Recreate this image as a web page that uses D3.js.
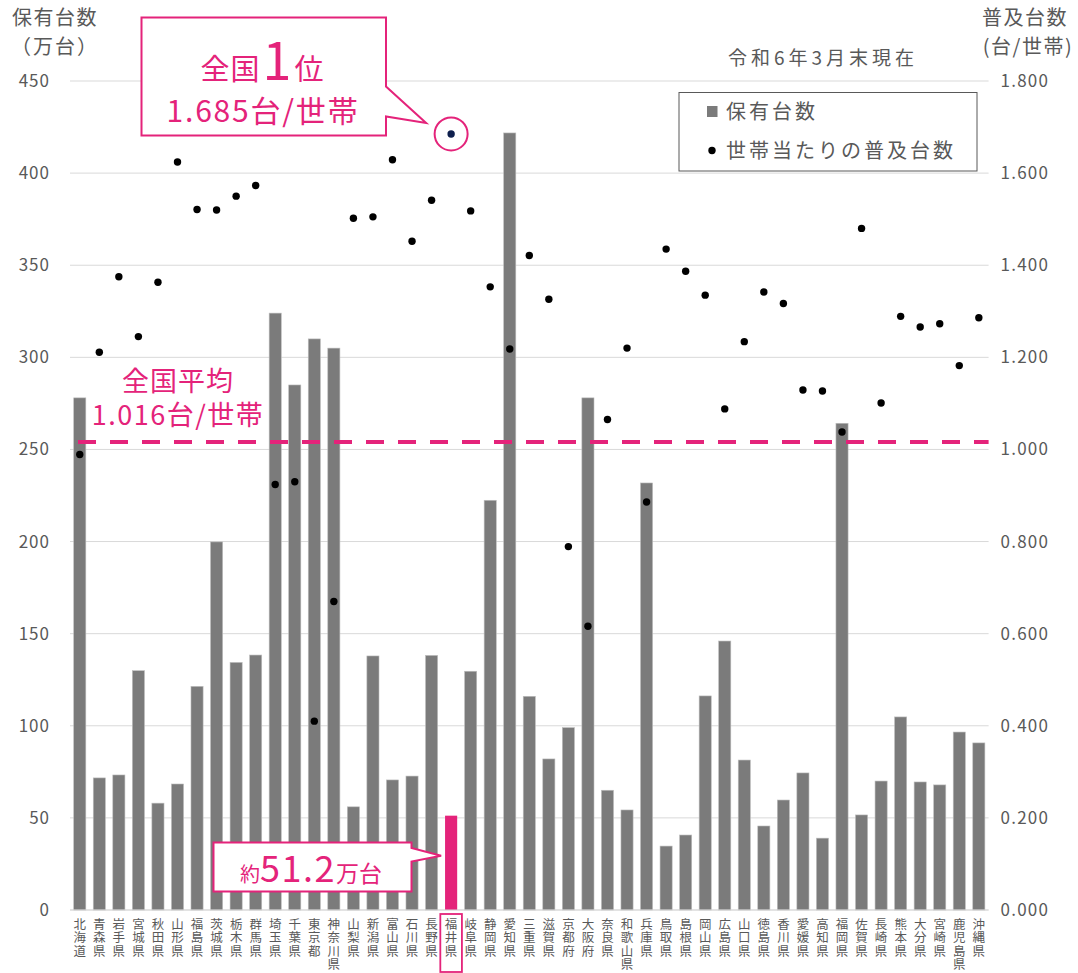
<!DOCTYPE html>
<html lang="ja">
<head>
<meta charset="utf-8">
<script src="https://cdn.jsdelivr.net/npm/d3@7"></script>
<style>
  html,body{margin:0;padding:0;background:#fff;}
  svg{display:block;}
  text{font-family:"Noto Sans CJK JP","Noto Sans",sans-serif;}
  .vlab{writing-mode:vertical-rl;text-orientation:upright;}
</style>
</head>
<body>
<svg id="chart" width="1078" height="973"></svg>
<script>
const prefectures = ["北海道","青森県","岩手県","宮城県","秋田県","山形県","福島県","茨城県","栃木県","群馬県","埼玉県","千葉県","東京都","神奈川県","山梨県","新潟県","富山県","石川県","長野県","福井県","岐阜県","静岡県","愛知県","三重県","滋賀県","京都府","大阪府","奈良県","和歌山県","兵庫県","鳥取県","島根県","岡山県","広島県","山口県","徳島県","香川県","愛媛県","高知県","福岡県","佐賀県","長崎県","熊本県","大分県","宮崎県","鹿児島県","沖縄県"];
// 保有台数（万台）
const ownedUnits = [278,71.7,73.3,129.9,58,68.4,121.4,199.8,134.4,138.4,324,285,310,305,56,137.9,70.6,72.7,138.2,51.2,129.6,222.4,421.8,116.0,82,99.0,278,65,54.3,231.8,34.7,40.7,116.2,146,81.4,45.6,59.7,74.4,39,264.2,51.6,70,104.8,69.5,67.9,96.6,90.7];
// 世帯当たりの普及台数（台/世帯）
const perHousehold = [0.989,1.211,1.375,1.245,1.363,1.624,1.521,1.520,1.550,1.573,0.924,0.930,0.410,0.670,1.502,1.505,1.629,1.452,1.541,1.685,1.518,1.353,1.218,1.421,1.326,0.789,0.616,1.065,1.220,0.886,1.435,1.387,1.335,1.088,1.234,1.342,1.317,1.129,1.127,1.038,1.480,1.101,1.289,1.266,1.273,1.182,1.286];
const leftTicks = [0,50,100,150,200,250,300,350,400,450];
const rightTicks = [0,0.2,0.4,0.6,0.8,1.0,1.2,1.4,1.6,1.8];
const nationalAverage = 1.016;
const highlight = "福井県";

const PINK = "#E4237A", GRAY = "#595959", BAR = "#7b7b7b", GRID = "#d9d9d9";
const svg = d3.select("#chart");
const L = 70, R = 988.6, T = 81, B = 910;

const x = d3.scaleBand().domain(prefectures).range([L, R]).paddingInner(0.38).paddingOuter(0.19);
const yL = d3.scaleLinear().domain([0, 450]).range([B, T]);
const yR = d3.scaleLinear().domain([0, 1.8]).range([B, T]);

// gridlines
svg.append("g").selectAll("line").data(leftTicks).join("line")
  .attr("x1", L).attr("x2", R).attr("y1", d => yL(d)).attr("y2", d => yL(d))
  .attr("stroke", GRID).attr("stroke-width", 1);

// left axis labels
const axL = svg.append("g").attr("transform", `translate(${L},0)`)
  .call(d3.axisLeft(yL).tickValues(leftTicks).tickSize(0).tickPadding(20).tickFormat(d3.format("d")));
axL.select(".domain").remove();
axL.selectAll("text").attr("fill", GRAY).style("font-size", "17px").style("letter-spacing", "1px");

// right axis labels
const axR = svg.append("g").attr("transform", `translate(${R},0)`)
  .call(d3.axisRight(yR).tickValues(rightTicks).tickSize(0).tickPadding(12).tickFormat(d3.format(".3f")));
axR.select(".domain").remove();
axR.selectAll("text").attr("fill", GRAY).style("font-size", "17px").style("letter-spacing", "1.2px");

// bars
svg.append("g").selectAll("rect").data(prefectures).join("rect")
  .attr("x", d => x(d)).attr("width", x.bandwidth())
  .attr("y", (d, i) => yL(ownedUnits[i])).attr("height", (d, i) => B - yL(ownedUnits[i]))
  .attr("fill", d => d === highlight ? PINK : BAR)
  .attr("stroke", d => d === highlight ? "none" : "#bdbdbd").attr("stroke-width", 0.6);

// national average dashed line
svg.append("line").attr("x1", L + 8).attr("x2", R).attr("y1", yR(nationalAverage)).attr("y2", yR(nationalAverage))
  .attr("stroke", PINK).attr("stroke-width", 4).attr("stroke-dasharray", "18,14");

// dots
svg.append("g").selectAll("circle").data(prefectures).join("circle")
  .attr("cx", d => x(d) + x.bandwidth() / 2).attr("cy", (d, i) => yR(perHousehold[i]))
  .attr("r", 3.7).attr("fill", d => d === highlight ? "#0e1f4d" : "#000");

// x labels (vertical)
svg.append("g").selectAll("text").data(prefectures).join("text")
  .attr("class", "vlab")
  .attr("x", d => x(d) + x.bandwidth() / 2).attr("y", 918)
  .attr("fill", GRAY).style("font-size", "12.5px").style("letter-spacing", "0.9px")
  .text(d => d);
// highlight box on 福井県 label
const hx = x(highlight) + x.bandwidth() / 2;
svg.append("rect").attr("x", hx - 10.8).attr("y", 914).attr("width", 21.6).attr("height", 58)
  .attr("fill", "none").attr("stroke", PINK).attr("stroke-width", 1.8);

// baseline
svg.append("line").attr("x1", L).attr("x2", R).attr("y1", B).attr("y2", B).attr("stroke", GRID);

// axis titles (two lines each)
const title2 = (tx, l1, l2, anchor, ls2) => {
  const t = svg.append("text").attr("text-anchor", anchor).attr("fill", GRAY).style("font-size", "20px");
  t.append("tspan").attr("x", tx[0]).attr("y", 25).style("letter-spacing", "1.5px").text(l1);
  t.append("tspan").attr("x", tx[1]).attr("y", 54).style("letter-spacing", ls2 + "px").text(l2);
};
title2([12, 11], "保有台数", "（万台）", "start", 2);
title2([1025, 1028], "普及台数", "(台/世帯)", "middle", 1.5);
svg.append("text").attr("x", 823).attr("y", 65).attr("text-anchor", "middle").attr("fill", GRAY)
  .style("font-size", "19px").style("letter-spacing", "4px").text("令和6年3月末現在");

// legend
svg.append("rect").attr("x", 679).attr("y", 92.5).attr("width", 298).attr("height", 78.5)
  .attr("fill", "#fff").attr("stroke", GRAY).attr("stroke-width", 1);
svg.append("rect").attr("x", 707).attr("y", 106).attr("width", 10.5).attr("height", 11).attr("fill", BAR);
svg.append("text").attr("x", 726).attr("y", 119).attr("fill", GRAY).style("font-size", "20px")
  .style("letter-spacing", "3px").text("保有台数");
svg.append("circle").attr("cx", 712).attr("cy", 150.5).attr("r", 3.7).attr("fill", "#000");
svg.append("text").attr("x", 726).attr("y", 158).attr("fill", GRAY).style("font-size", "20px")
  .style("letter-spacing", "3px").text("世帯当たりの普及台数");

// national average label (two lines, one text)
const avg = svg.append("text").attr("text-anchor", "middle").attr("fill", PINK).style("font-size", "27px");
avg.append("tspan").attr("x", 178).attr("y", 391).style("letter-spacing", "1px").text("全国平均");
avg.append("tspan").attr("x", 178).attr("y", 425).style("letter-spacing", "1.5px").text("1.016台/世帯");

// top callout (1位)
const cx1 = hx, cy1 = yR(perHousehold[prefectures.indexOf(highlight)]);
svg.append("circle").attr("cx", cx1).attr("cy", cy1).attr("r", 16.5).attr("fill", "none")
  .attr("stroke", PINK).attr("stroke-width", 2);
const b1 = {l: 141.5, t: 17.5, r: 386, b: 135.5};
const tip1 = [cx1 - 25, cy1 - 11];
svg.append("path")
  .attr("d", `M${b1.l},${b1.t}H${b1.r}V86.5L${tip1[0]},${tip1[1]}L${b1.r},116.5V${b1.b}H${b1.l}Z`)
  .attr("fill", "#fff").attr("stroke", PINK).attr("stroke-width", 2).attr("stroke-linejoin", "miter");
const t1 = svg.append("text").attr("text-anchor", "middle").attr("fill", PINK);
t1.append("tspan").attr("x", 262).attr("y", 80).style("font-size", "29px").style("letter-spacing", "1px").text("全国");
t1.append("tspan").style("font-size", "52px").attr("dx", 2).text("1");
t1.append("tspan").style("font-size", "29px").attr("dx", 3).text("位");
t1.append("tspan").attr("x", 263).attr("y", 122).style("font-size", "30px").style("letter-spacing", "1.8px").text("1.685台/世帯");

// bottom callout (約51.2万台)
const b2 = {l: 213.5, t: 842.5, r: 411.5, b: 891.5};
const tip2 = [hx - 10, yL(ownedUnits[prefectures.indexOf(highlight)]) + 40];
svg.append("path")
  .attr("d", `M${b2.l},${b2.t}H${b2.r}V848L${tip2[0]},${tip2[1]}L${b2.r},861.5V${b2.b}H${b2.l}Z`)
  .attr("fill", "#fff").attr("stroke", PINK).attr("stroke-width", 2);
const t2 = svg.append("text").attr("x", 311).attr("y", 882).attr("text-anchor", "middle").attr("fill", PINK);
t2.append("tspan").style("font-size", "20px").text("約");
t2.append("tspan").style("font-size", "36px").style("letter-spacing", "1.5px").text("51.2");
t2.append("tspan").style("font-size", "23px").text("万台");
</script>
</body>
</html>
